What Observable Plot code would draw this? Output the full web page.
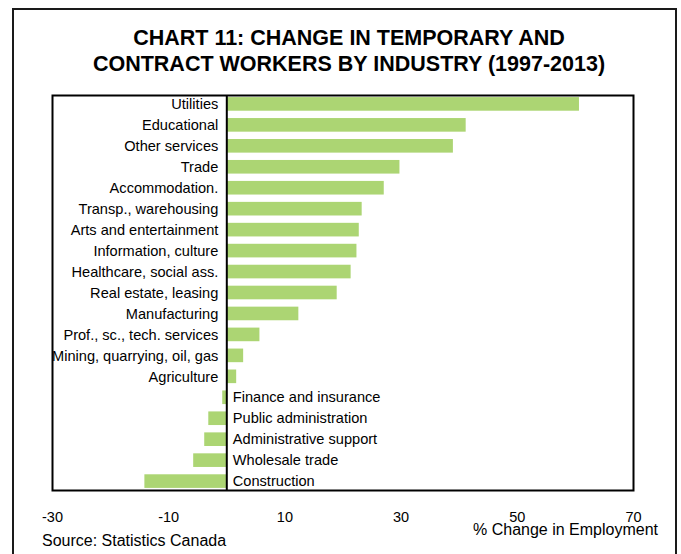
<!DOCTYPE html>
<html>
<head>
<meta charset="utf-8">
<script src="https://cdn.jsdelivr.net/npm/d3@7"></script>
<script src="https://cdn.jsdelivr.net/npm/@observablehq/plot@0.6"></script>
<style>
  html, body { margin: 0; padding: 0; background: #fff; }
  #wrap { position: relative; width: 681px; height: 554px; overflow: hidden; background: #fff;
          font-family: "Liberation Sans", Arial, sans-serif; color: #000; }
  #border { position: absolute; left: 12px; top: 8px; width: 661px; height: 600px; border: 2px solid #1a1a1a; }
  #title { position: absolute; left: 18px; width: 662px; top: 25px; text-align: center;
           font-weight: bold; font-size: 21.5px; line-height: 26px; }
  #chart { position: absolute; left: 0; top: 0; }
  #xlabel { position: absolute; right: 23px; top: 522px; font-size: 16px; line-height: 15px; white-space: nowrap; }
  #source { position: absolute; left: 42px; top: 532px; font-size: 16px; line-height: 18px; white-space: nowrap; }
</style>
</head>
<body>
<div id="wrap">
  <div id="border"></div>
  <div id="title">CHART 11: CHANGE IN TEMPORARY AND<br>CONTRACT WORKERS BY INDUSTRY (1997-2013)</div>
  <div id="chart"></div>
  <div id="xlabel">% Change in Employment</div>
  <div id="source">Source: Statistics Canada</div>
</div>
<script>
const industries = [
  "Utilities", "Educational", "Other services", "Trade", "Accommodation.",
  "Transp., warehousing", "Arts and entertainment", "Information, culture",
  "Healthcare, social ass.", "Real estate, leasing", "Manufacturing",
  "Prof., sc., tech. services", "Mining, quarrying, oil, gas", "Agriculture",
  "Finance and insurance", "Public administration", "Administrative support",
  "Wholesale trade", "Construction"
];
const changes = [60.7, 41.2, 39.0, 29.8, 27.1, 23.3, 22.8, 22.4, 21.4, 19.0, 12.4, 5.7, 2.9, 1.7, -0.7, -3.1, -3.8, -5.7, -14.1];
const xTicks = [-30, -10, 10, 30, 50, 70];

const data = industries.map((industry, i) => ({industry, value: changes[i]}));
const pos = data.filter(d => d.value >= 0);
const neg = data.filter(d => d.value < 0);

const chart = Plot.plot({
  width: 681,
  height: 554,
  marginTop: 95,
  marginBottom: 64,
  marginLeft: 52,
  marginRight: 48,
  style: {fontFamily: "'Liberation Sans', Arial, sans-serif", fontSize: "14.6px", background: "transparent", overflow: "visible", color: "#000"},
  x: {domain: [-30, 70]},
  y: {domain: industries, paddingInner: 0.35, paddingOuter: 0.1, round: false, axis: null},
  marks: [
    Plot.barX(data, {x: "value", y: "industry", fill: "#acd573"}),
    Plot.ruleX([0], {stroke: "#000", strokeWidth: 2}),
    Plot.frame({stroke: "#000", strokeWidth: 2}),
    Plot.text(pos, {x: 0, y: "industry", text: "industry", textAnchor: "end", dx: -8.5, fill: "#000", fontSize: 14.6}),
    Plot.text(neg, {x: 0, y: "industry", text: "industry", textAnchor: "start", dx: 6, fill: "#000", fontSize: 14.6}),
    Plot.axisX({ticks: xTicks, tickSize: 0, tickPadding: 21, fontSize: 14.5, label: null, tickFormat: d => String(d)})
  ]
});
document.getElementById("chart").appendChild(chart);
</script>
</body>
</html>
